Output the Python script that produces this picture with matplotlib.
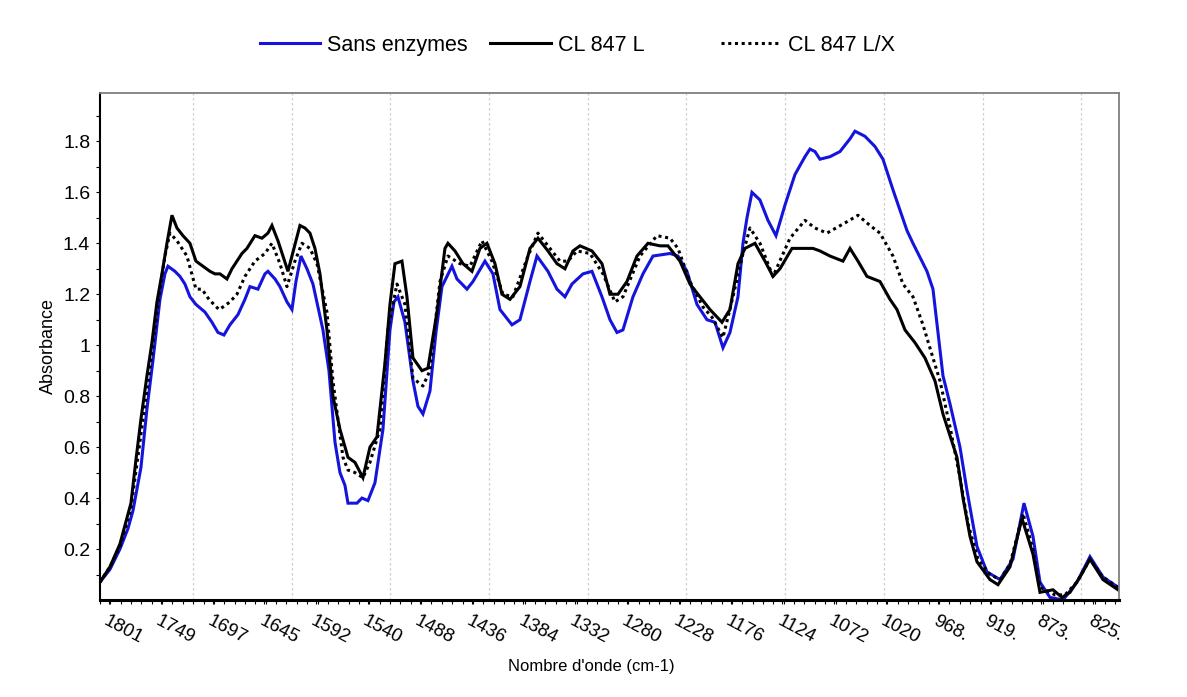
import matplotlib
matplotlib.use("Agg")
import matplotlib.pyplot as plt
from matplotlib.ticker import MultipleLocator, FixedLocator
from matplotlib.lines import Line2D

plt.rcParams["font.family"] = ["Liberation Sans", "DejaVu Sans"]

# x = point index along the spectrum (category axis), y = absorbance
sans_enzymes = [
    (0, 0.07), (10, 0.12), (20, 0.20), (28, 0.28), (33, 0.35), (41, 0.52), (47, 0.75), (53, 0.94),
    (60, 1.18), (65, 1.28), (68, 1.31), (75, 1.29), (80, 1.27), (85, 1.24), (90, 1.19), (96, 1.16),
    (105, 1.13), (112, 1.09), (118, 1.05), (124, 1.04), (130, 1.08), (138, 1.12), (145, 1.18),
    (150, 1.23), (158, 1.22), (165, 1.28), (168, 1.29), (175, 1.26), (180, 1.23), (187, 1.17),
    (192, 1.14), (196, 1.25), (201, 1.35), (207, 1.30), (213, 1.24), (218, 1.15), (223, 1.06),
    (229, 0.90), (235, 0.62), (240, 0.50), (245, 0.45), (248, 0.38), (257, 0.38), (262, 0.40),
    (268, 0.39), (275, 0.46), (283, 0.67), (290, 1.06), (294, 1.17), (298, 1.19), (305, 1.09),
    (313, 0.86), (318, 0.76), (323, 0.73), (330, 0.82), (336, 1.05), (342, 1.23), (352, 1.31),
    (357, 1.26), (367, 1.22), (373, 1.25), (385, 1.33), (393, 1.28), (400, 1.14), (412, 1.08),
    (420, 1.10), (430, 1.25), (437, 1.35), (448, 1.29), (457, 1.22), (465, 1.19), (472, 1.24),
    (483, 1.28), (492, 1.29), (502, 1.19), (510, 1.10), (517, 1.05), (523, 1.06), (533, 1.19),
    (543, 1.28), (553, 1.35), (570, 1.36), (578, 1.35), (587, 1.29), (597, 1.16), (607, 1.10),
    (615, 1.09), (623, 0.99), (630, 1.05), (638, 1.19), (643, 1.40), (647, 1.50), (652, 1.60),
    (660, 1.57), (668, 1.49), (676, 1.43), (685, 1.55), (695, 1.67), (705, 1.74), (710, 1.77),
    (715, 1.76), (720, 1.73), (730, 1.74), (740, 1.76), (750, 1.81), (755, 1.84), (765, 1.82),
    (775, 1.78), (783, 1.73), (793, 1.61), (807, 1.45), (813, 1.40), (827, 1.29), (833, 1.22),
    (838, 1.05), (843, 0.88), (850, 0.77), (860, 0.60), (867, 0.43), (877, 0.21), (887, 0.11),
    (900, 0.08), (913, 0.16), (924, 0.38), (933, 0.25), (940, 0.07), (950, 0.01), (963, 0.00),
    (977, 0.07), (990, 0.17), (1003, 0.09), (1018, 0.05),
]

cl_847_l = [
    (0, 0.07), (10, 0.13), (20, 0.22), (31, 0.38), (36, 0.55), (41, 0.71), (47, 0.88), (52, 1.01),
    (57, 1.17), (62, 1.28), (67, 1.40), (72, 1.51), (77, 1.46), (83, 1.43), (90, 1.40), (96, 1.33),
    (103, 1.31), (110, 1.29), (115, 1.28), (120, 1.28), (127, 1.26), (132, 1.30), (137, 1.33),
    (142, 1.36), (147, 1.38), (155, 1.43), (162, 1.42), (168, 1.44), (172, 1.47), (178, 1.41),
    (183, 1.35), (188, 1.29), (194, 1.38), (200, 1.47), (205, 1.46), (210, 1.44), (215, 1.38),
    (220, 1.28), (227, 1.06), (233, 0.80), (240, 0.67), (248, 0.56), (255, 0.54), (263, 0.48),
    (270, 0.60), (277, 0.64), (285, 0.93), (290, 1.16), (295, 1.32), (302, 1.33), (307, 1.19),
    (313, 0.95), (322, 0.90), (328, 0.91), (337, 1.13), (345, 1.38), (348, 1.40), (355, 1.37),
    (363, 1.32), (372, 1.29), (380, 1.38), (387, 1.40), (395, 1.32), (402, 1.20), (410, 1.18),
    (420, 1.23), (430, 1.38), (438, 1.42), (448, 1.37), (457, 1.32), (465, 1.30), (473, 1.37),
    (480, 1.39), (492, 1.37), (502, 1.32), (510, 1.20), (518, 1.20), (527, 1.25), (537, 1.35),
    (548, 1.40), (560, 1.39), (568, 1.39), (580, 1.33), (590, 1.24), (600, 1.19), (610, 1.14),
    (622, 1.09), (630, 1.14), (638, 1.32), (645, 1.38), (655, 1.40), (665, 1.33), (673, 1.27),
    (680, 1.30), (692, 1.38), (700, 1.38), (713, 1.38), (720, 1.37), (730, 1.35), (743, 1.33),
    (750, 1.38), (758, 1.33), (767, 1.27), (780, 1.25), (790, 1.18), (797, 1.14), (805, 1.06),
    (815, 1.01), (825, 0.95), (835, 0.86), (843, 0.73), (857, 0.56), (863, 0.40), (870, 0.25),
    (877, 0.15), (890, 0.08), (898, 0.06), (910, 0.13), (922, 0.32), (933, 0.18), (940, 0.03),
    (953, 0.04), (962, 0.01), (970, 0.03), (980, 0.09), (990, 0.16), (1003, 0.08), (1018, 0.04),
]

cl_847_lx = [
    (0, 0.07), (10, 0.13), (20, 0.21), (31, 0.36), (41, 0.65), (52, 0.97), (60, 1.22), (65, 1.35),
    (70, 1.44), (77, 1.41), (87, 1.35), (96, 1.22), (102, 1.22), (109, 1.18), (119, 1.14),
    (123, 1.15), (130, 1.17), (137, 1.20), (145, 1.27), (155, 1.33), (165, 1.36), (172, 1.40),
    (180, 1.32), (187, 1.23), (195, 1.33), (202, 1.40), (210, 1.38), (217, 1.32), (227, 1.13),
    (233, 0.86), (243, 0.56), (248, 0.51), (255, 0.50), (263, 0.48), (270, 0.54), (280, 0.67),
    (288, 1.06), (297, 1.24), (305, 1.16), (313, 0.87), (323, 0.84), (330, 0.90), (340, 1.25),
    (348, 1.35), (360, 1.32), (370, 1.31), (382, 1.41), (392, 1.33), (403, 1.20), (413, 1.19),
    (428, 1.35), (438, 1.44), (450, 1.38), (460, 1.33), (468, 1.33), (477, 1.37), (490, 1.36),
    (503, 1.28), (515, 1.17), (523, 1.19), (540, 1.35), (557, 1.43), (570, 1.42), (578, 1.38),
    (590, 1.25), (603, 1.15), (612, 1.11), (623, 1.03), (633, 1.19), (643, 1.36), (650, 1.46),
    (660, 1.40), (673, 1.27), (690, 1.42), (705, 1.49), (715, 1.46), (727, 1.44), (745, 1.48),
    (758, 1.51), (770, 1.47), (780, 1.44), (793, 1.35), (803, 1.24), (813, 1.19), (823, 1.08),
    (833, 0.95), (840, 0.86), (850, 0.68), (860, 0.48), (868, 0.30), (878, 0.16), (890, 0.10),
    (900, 0.08), (910, 0.14), (923, 0.34), (933, 0.20), (940, 0.05), (955, 0.02), (965, 0.02),
    (977, 0.07), (990, 0.16), (1003, 0.09), (1018, 0.05),
]

wavenumber_labels = ["1801", "1749", "1697", "1645", "1592", "1540", "1488", "1436", "1384", "1332",
                     "1280", "1228", "1176", "1124", "1072", "1020", "968.", "919.", "873.", "825."]

n_points = 1019
label_first, label_step = 9, 51.8
grid_first, grid_step = 93, 98.7

fig = plt.figure(figsize=(11.87, 6.97), dpi=100)
ax = fig.add_axes([0.0842, 0.1392, 0.8585, 0.7274])

series = [
    (sans_enzymes, "Sans enzymes", dict(color="#1414dc", lw=2.2, ls="-")),
    (cl_847_l, "CL 847 L", dict(color="black", lw=2.2, ls="-")),
    (cl_847_lx, "CL 847 L/X", dict(color="black", lw=2.2, ls=(0, (1, 1.2)))),
]
for data, name, style in series:
    xs = [p[0] for p in data]
    ys = [p[1] for p in data]
    ax.plot(xs, ys, label=name, solid_joinstyle="miter", **style)

ax.set_xlim(0, n_points)
ax.set_ylim(0, 1.99)

# category-style x axis
ax.set_xticks([label_first + i * label_step for i in range(len(wavenumber_labels))])
ax.set_xticklabels(wavenumber_labels, rotation=-28, ha="left", va="top",
                   rotation_mode="anchor", fontsize=13.5)
ax.xaxis.set_minor_locator(MultipleLocator(label_step / 5))
ax.tick_params(axis="x", which="both", direction="out", length=3, width=0.8, pad=6)

grid_pos = []
g = grid_first
while g < n_points:
    grid_pos.append(g)
    g += grid_step
for gx in grid_pos:
    ax.axvline(gx, color="#cfcfcf", lw=0.9, ls=(0, (2, 2)), zorder=0)

ax.set_yticks([0.2, 0.4, 0.6, 0.8, 1.0, 1.2, 1.4, 1.6, 1.8])
ax.set_yticklabels(["0.2", "0.4", "0.6", "0.8", "1", "1.2", "1.4", "1.6", "1.8"], fontsize=14)
ax.yaxis.set_minor_locator(FixedLocator([0.1 + 0.2 * i for i in range(10)]))
ax.tick_params(axis="y", which="both", direction="out", length=3, width=0.8, pad=4)

ax.spines["bottom"].set_linewidth(2.2)
ax.spines["bottom"].set_color("black")
ax.spines["left"].set_linewidth(1.5)
ax.spines["left"].set_color("black")
for s in ("top", "right"):
    ax.spines[s].set_linewidth(1.3)
    ax.spines[s].set_color("#7f7f7f")

ax.set_ylabel("Absorbance", fontsize=13, labelpad=4)
ax.set_xlabel("Nombre d'onde (cm-1)", fontsize=12)
ax.xaxis.set_label_coords(0.482, -0.117)

# Excel-style legend: equal-width entries side by side
legend_x = [0.219, 0.413, 0.607]
for (data, name, style), lx in zip(series, legend_x):
    handle = Line2D([], [], **style)
    fig.legend([handle], [name], loc="center left", bbox_to_anchor=(lx, 0.935),
               frameon=False, fontsize=15.5, handlelength=2.8, handletextpad=0.33,
               borderaxespad=0, borderpad=0)

fig.savefig("out.png", dpi=100, facecolor="white")
